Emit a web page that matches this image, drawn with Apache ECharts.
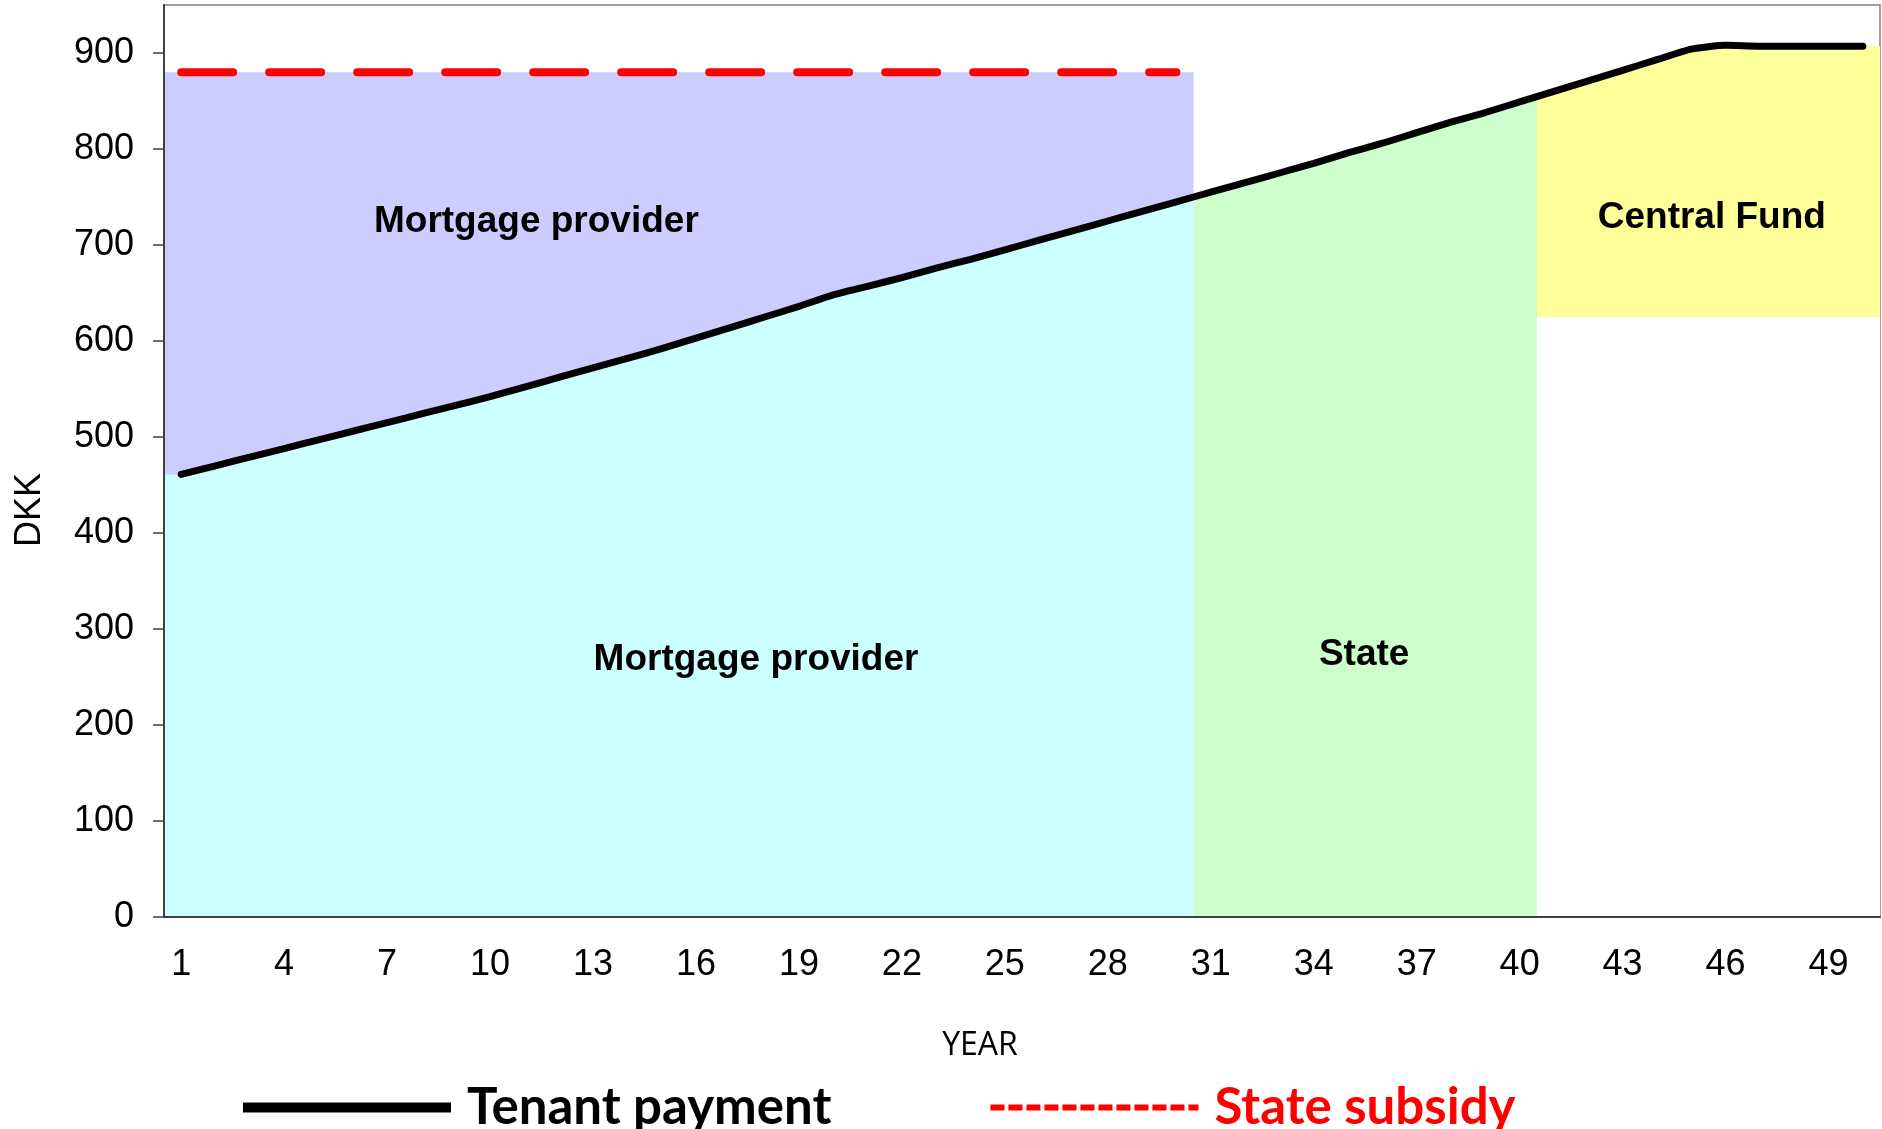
<!DOCTYPE html>
<html>
<head>
<meta charset="utf-8">
<title>Tenant payment</title>
<script src="https://cdn.jsdelivr.net/npm/echarts@6/dist/echarts.min.js"></script>
<style>
  html, body { margin: 0; padding: 0; background: #fff; }
  #content-data { width: 1882px; height: 1129px; }
</style>
</head>
<body>
<div id="content-data"></div>
<script>
// ---- data ----
var years = [];
for (var i = 1; i <= 50; i++) years.push(i);

var tenantPayment = [
  461, 470, 479, 488, 497, 506, 515, 524, 533, 542,
  552, 562, 572, 582, 592, 603, 614, 625, 636, 648,
  657, 666, 676, 685, 695, 705, 715, 725, 735, 745,
  755, 765, 775, 785, 796, 806, 817, 828, 838, 849,
  860, 871, 882, 893, 904, 908, 907, 907, 907, 907
];
var subsidyLevel = 880;          // State subsidy ceiling, years 1-30
var mortgageYears = [1, 30];
var stateYears = [31, 40];
var fundYears = [41, 50];
var fundFloor = 625;             // bottom of the Central Fund block
var yTicks = [0, 100, 200, 300, 400, 500, 600, 700, 800, 900];
var regionNames = ['Mortgage provider', 'Mortgage provider', 'State', 'Central Fund'];

// where the region captions sit (year, DKK)
var captionSpots = [[11.35, 724], [17.75, 268], [35.47, 273], [45.6, 728]];

var dom = document.getElementById('content-data');
var myChart = echarts.init(dom, null, { renderer: 'canvas', useDirtyRect: false });

var half = 0.5;
var last = years.length - 1;
var tenantXY = years.map(function (y, i) { return [y, tenantPayment[i]]; });
var tenantFill = [[years[0] - half, tenantPayment[0]]]
  .concat(tenantXY, [[years[last] + half, tenantPayment[last]]]);
var subsidyXY = years.slice(mortgageYears[0] - 1, mortgageYears[1])
  .map(function (y) { return [y, subsidyLevel]; });

var option;

option = {
  animation: false,
  grid: {
    left: 164, top: 5, right: 2, bottom: 212,
    show: true, borderColor: '#808080', borderWidth: 1.5,
    backgroundColor: 'transparent'
  },
  legend: {
    left: 238,
    top: 1082,
    padding: 0,
    itemWidth: 208,
    itemHeight: 14,
    itemGap: 156,
    textStyle: { fontFamily: 'Lato', fontWeight: 'bold', fontSize: 51, padding: [0, 0, 0, 11] },
    data: [
      { name: 'Tenant payment', textStyle: { color: '#000' },
        itemStyle: { color: '#000', opacity: 0 },
        lineStyle: { width: 10, color: '#000', type: 'solid', cap: 'butt' } },
      { name: 'State subsidy', textStyle: { color: '#FF0000' },
        itemStyle: { color: '#FF0000', opacity: 0 },
        lineStyle: { width: 6, color: '#FF0000', type: [14, 4], cap: 'butt' } }
    ]
  },
  visualMap: {
    show: false,
    type: 'piecewise',
    seriesIndex: 1,
    dimension: 0,
    pieces: [
      { lt: mortgageYears[1] + half, color: '#CCFFFF' },
      { gte: stateYears[0] - half, lt: stateYears[1] + half, color: '#CCFFCC' },
      { gte: fundYears[0] - half, color: '#FFFF99' }
    ]
  },
  xAxis: [
    {
      type: 'category',
      data: years,
      boundaryGap: true,
      z: 4,
      name: 'YEAR',
      nameLocation: 'middle',
      nameGap: 113,
      nameTextStyle: { fontFamily: 'Open Sans', fontSize: 32, color: '#000', padding: [0, 84, 0, 0] },
      axisLine: { lineStyle: { color: '#404040', width: 2 } },
      axisTick: { interval: 0, length: 13, lineStyle: { color: '#404040', width: 1.5 } },
      axisLabel: { interval: 2, margin: 30, fontFamily: 'Liberation Sans', fontSize: 36, color: '#000' },
      splitLine: { show: false }
    },
    {
      type: 'value',
      min: years[0] - half,
      max: years[last] + half,
      show: false
    }
  ],
  yAxis: {
    type: 'value',
    min: 0,
    max: 950,
    interval: 100,
    z: 4,
    name: 'DKK',
    nameLocation: 'middle',
    nameGap: 116,
    nameTextStyle: { fontFamily: 'Liberation Sans', fontSize: 36, color: '#000', padding: [0, 98, 0, 0] },
    axisLine: { show: true, lineStyle: { color: '#404040', width: 2 } },
    axisTick: { show: true, length: 11, customValues: yTicks, lineStyle: { color: '#404040', width: 1.5 } },
    axisLabel: { margin: 30, customValues: yTicks, fontFamily: 'Liberation Sans', fontSize: 36, color: '#000' },
    splitLine: { show: false }
  },
  series: [
    {
      name: 'Mortgage block',
      type: 'line',
      xAxisIndex: 1,
      symbol: 'none',
      silent: true,
      z: 1,
      data: [[mortgageYears[0] - half, subsidyLevel], [mortgageYears[1] + half, subsidyLevel]],
      lineStyle: { width: 0 },
      areaStyle: { color: '#CCCCFF', opacity: 1 },
      markPoint: {
        symbol: 'circle',
        symbolSize: 0,
        silent: true,
        label: {
          show: true, position: 'inside', formatter: '{b}',
          fontFamily: 'Liberation Sans', fontWeight: 'bold', fontSize: 37, color: '#000'
        },
        data: regionNames.map(function (n, i) { return { name: n, coord: captionSpots[i] }; })
      }
    },
    {
      name: 'Payer fill',
      type: 'line',
      xAxisIndex: 1,
      symbol: 'none',
      silent: true,
      smooth: 0.2,
      z: 2,
      data: tenantFill,
      lineStyle: { width: 0 },
      areaStyle: { opacity: 1 }
    },
    {
      name: 'Fund floor',
      type: 'line',
      xAxisIndex: 1,
      symbol: 'none',
      silent: true,
      z: 3,
      data: [[fundYears[0] - half, fundFloor], [fundYears[1] + half, fundFloor]],
      lineStyle: { width: 0 },
      areaStyle: { color: '#FFFFFF', opacity: 1 }
    },
    {
      name: 'Tenant payment',
      type: 'line',
      xAxisIndex: 1,
      symbol: 'none',
      smooth: 0.2,
      z: 5,
      data: tenantXY,
      itemStyle: { color: '#000' },
      lineStyle: { color: '#000', width: 7, cap: 'round' }
    },
    {
      name: 'State subsidy',
      type: 'line',
      xAxisIndex: 1,
      symbol: 'none',
      z: 5,
      data: subsidyXY,
      itemStyle: { color: '#FF0000' },
      lineStyle: { color: '#FF0000', width: 8, type: [52, 36], cap: 'round' }
    }
  ]
};

if (option && typeof option === 'object') {
  myChart.setOption(option);
}

window.addEventListener('resize', myChart.resize);
</script>
</body>
</html>
